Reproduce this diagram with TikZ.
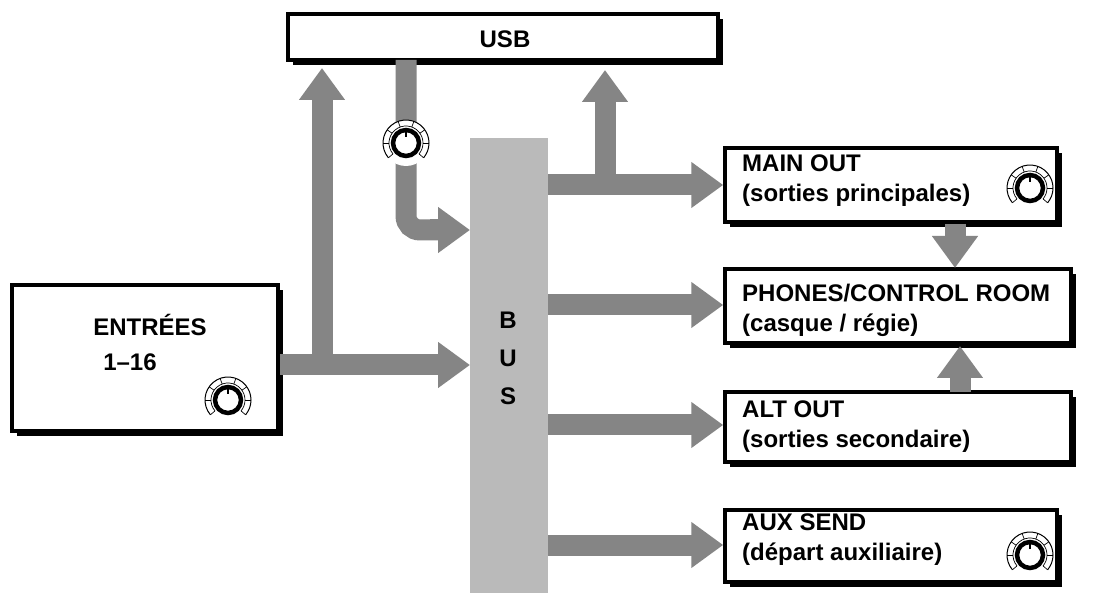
\documentclass[tikz,border=0pt]{standalone}
\usepackage{fontspec}
\setmainfont{Liberation Sans}
\usetikzlibrary{arrows.meta,shadows}
\begin{document}
\begin{tikzpicture}[x=1pt,y=-1pt,
  box/.style={draw=black,line width=3.5pt,fill=white,inner sep=0pt,
    drop shadow={shadow xshift=5pt,shadow yshift=-5pt,fill=black,opacity=1}},
  big/.style={font=\fontsize{24}{30}\selectfont\bfseries,inner sep=0pt},
  lbl/.style={big,align=left,anchor=west},
  flow/.style={draw=black!48,line width=21pt,-{Triangle[width=44pt,length=32pt]}},
  line/.style={draw=black!48,line width=21pt},
  knob/.pic={
    \fill[white] (0,0) circle (23);
    \draw[line width=1pt] (-220:23) arc[start angle=-220,end angle=40,radius=23];
    \draw[line width=0.7pt] (-220:17) arc[start angle=-220,end angle=40,radius=17];
    \foreach \a in {-220,-180,-145,-110,-70,-35,0,40}{\draw[line width=0.7pt] (\a:17) -- (\a:23);}
    \draw[line width=4.5pt,fill=white] (0,0) circle (13);
    \draw[line width=1.4pt] (0,-14) -- (0,-6);
  }]
\useasboundingbox (0,0) rectangle (1093,593);
\fill[white] (0,0) rectangle (1093,593);
% boxes
\node[box,minimum width=430pt,minimum height=46pt] (usb) at (503,37) {};
\node[big] (usbt) at (505,39) {USB};
\node[box,minimum width=266pt,minimum height=146pt] (ent) at (145,358) {};
\node[big] (entt) at (150,325) {ENTRÉES};
\node[big] (entn) at (130,362) {1–16};
\fill[black!27] (470,138) rectangle (548,593);
\node[big,align=center] (bust) at (508,358) {B\\[8pt]U\\[8pt]S};
\node[box,minimum width=332pt,minimum height=74pt] (main) at (891,185) {};
\node[box,minimum width=346pt,minimum height=74pt] (ph) at (898,306) {};
\node[box,minimum width=346pt,minimum height=70pt] (alt) at (898,427) {};
\node[box,minimum width=332pt,minimum height=72pt] (aux) at (891,546) {};
\node[lbl] (mt) at (742,181) {MAIN OUT\\(sorties principales)};
\node[lbl] (pt) at (742,310) {PHONES/CONTROL ROOM\\(casque / régie)};
\node[lbl] (at) at (742,427) {ALT OUT\\(sorties secondaire)};
\node[lbl] (xt) at (742,540) {AUX SEND\\(départ auxiliaire)};
% arrows
\coordinate (e1) at (ent.east |- 0,365);
\coordinate (b1) at (470,365);
\draw[flow] (e1) -- (b1);
\draw[flow] (322,375) -- (322,68);
\draw[line,rounded corners=14pt] (406,60) -- (406,230) -- (440,230);
\draw[flow] (430,230) -- (470,230);
\coordinate (m1) at (548,185);
\draw[flow] (m1) -- (main.west |- m1);
\draw[flow] (605,195) -- (605,70);
\draw[flow] (548,305) -- (ph.west |- 0,305);
\draw[flow] (548,425) -- (alt.west |- 0,425);
\draw[flow] (548,545) -- (aux.west |- 0,545);
\draw[flow] (955,224) -- (955,268);
\draw[flow] (960,392) -- (960,346);
% knobs
\pic at (406,143) {knob};
\pic at (228,400) {knob};
\pic at (1030,188) {knob};
\pic at (1030,555) {knob};
\end{tikzpicture}
\end{document}
